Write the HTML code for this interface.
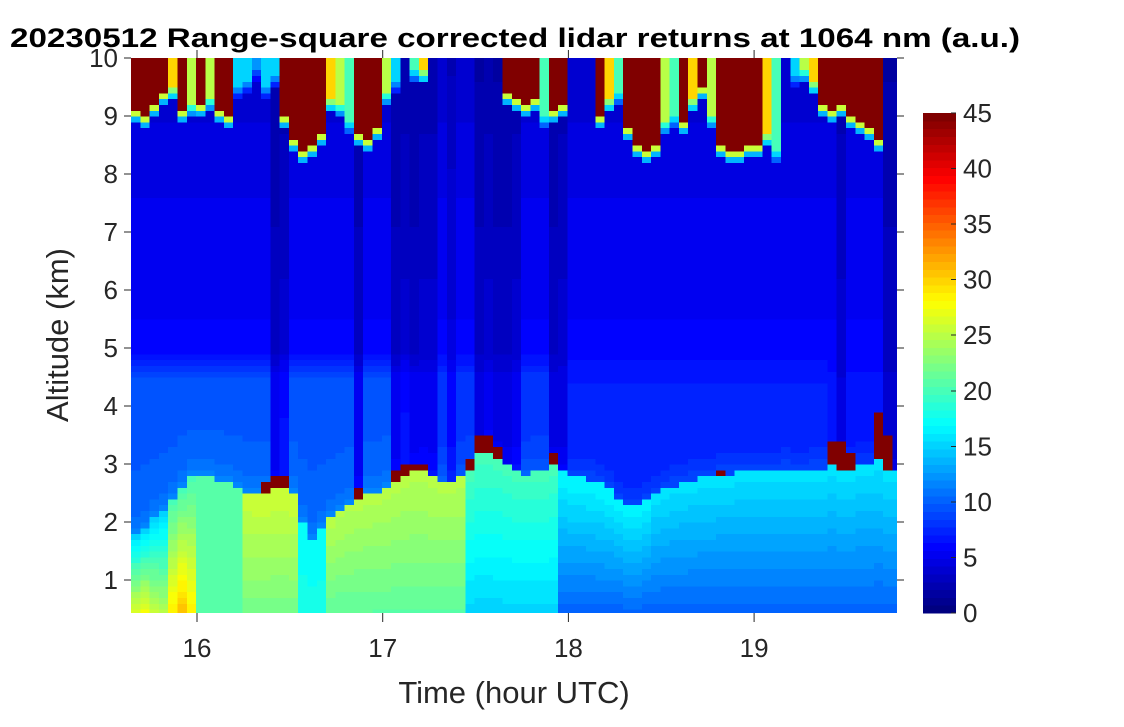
<!DOCTYPE html>
<html><head><meta charset="utf-8"><style>
body{margin:0;background:#fff;}
svg{display:block;font-family:"Liberation Sans",sans-serif;}
</style></head><body>
<svg id="chart" width="1124" height="727" viewBox="0 0 1124 727">
<defs><clipPath id="pc"><rect x="131" y="58" width="766" height="555"/></clipPath></defs>
<text x="10" y="47" font-size="27" font-weight="bold" textLength="1010" lengthAdjust="spacingAndGlyphs">20230512  Range-square corrected lidar returns at 1064 nm (a.u.)</text>
<g id="heat" clip-path="url(#pc)" shape-rendering="crispEdges"></g>
<g id="axes"></g>
<g id="cbar" shape-rendering="crispEdges"></g>
<text x="514" y="703" font-size="31" text-anchor="middle" fill="#262626">Time (hour UTC)</text>
<text transform="translate(68,335) rotate(-90)" font-size="31" text-anchor="middle" fill="#262626">Altitude (km)</text>
</svg>
<script>
const t0 = 15.645, dt = 0.05;
const pblTop = [1.8,1.9,2.1,2.2,2.4,2.6,2.8,2.85,2.8,2.75, 2.7,2.65,2.55,2.5,2.5,2.6,2.6,2.5,2.0,1.7, 1.9,2.1,2.25,2.35,2.45,2.5,2.55,2.6,2.75,2.85, 2.9,2.9,2.8,2.75,2.75,2.8,2.9,3.2,3.2,3.1, 3.0,2.9,2.85,2.9,2.9,3.0,2.9,2.8,2.8,2.75, 2.7,2.6,2.4,2.3,2.3,2.4,2.5,2.6,2.65,2.7, 2.75,2.8,2.8,2.85,2.85,2.9,2.9,2.9,2.9,2.9, 2.95,2.9,2.9,2.95,2.95,3.0,2.9,2.95,3.0,3.0, 3.1,2.9,2.9];
const lowCloud = [0,0,0,0,0,0,0,0,0,0, 0,0,0,0,0.2,0.25,0.2,0,0,0, 0,0,0,0,0.2,0,0,0,0.15,0.2, 0.15,0.15,0,0,0,0,0.2,0.3,0.3,0.25, 0,0,0,0,0,0.25,0,0,0,0, 0,0,0,0,0,0,0,0,0,0, 0,0,0,0.1,0,0,0,0,0,0, 0,0,0,0,0,0.4,0.5,0.3,0,0, 0.8,0.6,0];
const pblBot = [27,28,26,25,29,31,29,21,21,21, 21,21,22,22,22,22,22,22,18,18, 18,21,21,21,21,21,21,21,21,21, 21,21,21,21,21,21,15,15,15,15, 15,15,15,15,15,15,10,10,10,10, 10,10,10,10,10,10,10,10,10,10, 10,10,10,10,10,10,10,10,10,10, 10,10,10,10,10,10,10,10,10,10, 10,10,10];
const pblTopVal = [15,15,15,15,20,20,20,21,21,21, 21,21,26,26,26,26,26,26,17,17, 17,25,25,25,25,25,25,25,25,25, 25,25,25,25,25,25,20,20,20,20, 20,20,20,20,20,20,17,17,17,17, 17,17,17,17,17,17,16,16,16,16, 16,16,16,16,16,16,16,16,16,16, 16,16,16,16,16,16,16,16,16,16, 16,16,16];
const darkFactor = [1,1,1,1,1,1,1,1,1,1, 1,1,1,1,1,0.55,0.65,1,1,1, 1,1,1,1,0.55,1,1,1,0.55,0.65, 0.55,0.65,0.65,1,0.75,1,1,0.55,0.65,0.55, 0.55,0.65,1,1,1,0.55,0.65,1,1,1, 1,1,1,1,1,1,1,1,1,1, 1,1,1,1,1,1,1,1,1,1, 1,1,1,1,1,1,0.65,1,1,1, 1,0.55,0.55];
const cloudBase = [9.1,9.0,9.2,9.4,9.5,9.1,9.2,9.2,9.3,9.05, 9.0,9.5,9.6,9.8,9.5,9.7,9.0,8.6,8.4,8.5, 8.7,9.3,9.2,8.9,8.7,8.6,8.8,9.4,9.6,99, 9.8,9.8,99,99,99,99,99,99,99,99, 9.4,9.3,9.2,9.3,9.0,9.1,9.2,99,99,99, 9.0,9.3,9.4,8.8,8.5,8.4,8.5,8.9,9.0,8.9, 9.3,9.5,9.0,8.5,8.4,8.4,8.45,8.5,8.7,8.4, 99,9.7,9.8,9.6,9.2,9.1,9.2,9.0,8.9,8.8, 8.6,99,99];
const cloudVal = [45,45,45,45,30,45,25,45,25,45, 45,15,15,12,15,15,45,45,45,45, 45,30,25,20,45,45,45,25,15,0, 20,30,0,0,0,0,0,0,0,0, 45,45,45,45,20,45,45,0,0,0, 45,30,20,45,45,45,45,25,20,45, 30,45,25,45,45,45,45,45,30,20, 0,15,25,30,45,45,45,45,45,45, 45,0,0];
const residual = [9.5,9.5,9.5,9.5,9.5,9.5,9.5,9.5,9.5,9.5, 9.5,9.5,9.5,9.5,9.5,9.5,9.5,9.5,9.5,9.5, 9.5,9.5,9.5,9.5,9.5,9.5,9.5,9.5,9.5,9.5, 9.5,8,8,8,8,8,8,8,8,8, 8,8,8,8,8,8,7,7,7,7, 7,7,7,7,7,7,7,7,7,7, 7,7,7,7,7,7,7,7,7,7, 7,7,7,7,7,6.5,6.5,6.5,6.5,6.5, 6.5,6.5,6.5];
const xTicks = [16,17,18,19];
const yTicks = [1,2,3,4,5,6,7,8,9,10];
const cTicks = [0,5,10,15,20,25,30,35,40,45];

const NS = "http://www.w3.org/2000/svg";
const xS = t => 197 + (t - 16) * 185.7;
const yS = z => 580 - (z - 1) * 58;
const cS = v => 613 - v / 45 * 500;
function jet(v){
  let t = Math.max(0, Math.min(1, v / 45));
  t = Math.min(63, Math.floor(t * 64)) / 63;
  const c = x => Math.round(255 * Math.max(0, Math.min(1, x)));
  return `rgb(${c(1.5 - Math.abs(4*t - 3))},${c(1.5 - Math.abs(4*t - 2))},${c(1.5 - Math.abs(4*t - 1))})`;
}
function lerp(pts, z){
  if (z <= pts[0][0]) return pts[0][1];
  for (let k = 1; k < pts.length; k++) if (z <= pts[k][0]) {
    const a = pts[k-1], b = pts[k]; return a[1] + (b[1]-a[1])*(z-a[0])/(b[0]-a[0]);
  }
  return pts[pts.length-1][1];
}
function value(i, z){
  const top = pblTop[i];
  if (z >= cloudBase[i]) return cloudVal[i];
  if (z >= cloudBase[i] - 0.1) return cloudVal[i] >= 45 ? 26 : cloudVal[i] * 0.75;
  if (z >= cloudBase[i] - 0.2) return cloudVal[i] >= 45 ? 14 : Math.max(6, cloudVal[i] * 0.5);
  if (z < top) {
    const f = (z - 0.4) / (top - 0.4);
    return pblBot[i] + (pblTopVal[i] - pblBot[i]) * f;
  }
  if (z < top + lowCloud[i]) return 45;
  const r = residual[i];
  const ft = lerp([[top, r + 2], [top + 0.4, r + 0.5], [4.5, r], [5.0, 5.8], [7.5, 5.0], [10, 3.6]], z);
  return ft * darkFactor[i];
}
const heat = document.getElementById('heat');
for (let i = 0; i < pblTop.length; i++) {
  const x0 = xS(t0 + i*dt), x1 = xS(t0 + (i+1)*dt);
  for (let z = 0.4; z < 10.05; z += 0.1) {
    const zc = z + 0.05;
    const r = document.createElementNS(NS, 'rect');
    
    
    r.setAttribute('x', x0.toFixed(2));
    r.setAttribute('y', yS(z + 0.1).toFixed(2));
    r.setAttribute('width', (x1 - x0 + 0.6).toFixed(2));
    r.setAttribute('height', '6.4');
    r.setAttribute('fill', jet(value(i, zc)));
    heat.appendChild(r);
  }
}
const axes = document.getElementById('axes');
function line(x1,y1,x2,y2,name){
  const l = document.createElementNS(NS,'line');
  
  
  l.setAttribute('x1',x1);l.setAttribute('y1',y1);l.setAttribute('x2',x2);l.setAttribute('y2',y2);
  l.setAttribute('stroke','#262626');l.setAttribute('stroke-width','1');
  axes.appendChild(l);
}
function text(x,y,s,anchor,size,name,parent){
  const t = document.createElementNS(NS,'text');
  
  
  t.setAttribute('x',x);t.setAttribute('y',y);t.setAttribute('text-anchor',anchor);
  t.setAttribute('font-size',size);t.setAttribute('fill','#262626');
  t.textContent = s; parent.appendChild(t);
}
xTicks.forEach(v => {
  const x = xS(v);
  line(x,613,x,622,'x-tick');
  line(x,50,x,58,'x-tick-top');
  text(x,657,String(v),'middle',26,'x-tick-label',axes);
});
yTicks.forEach(v => {
  const y = yS(v);
  line(124,y,131,y,'y-tick');
  line(897,y,904,y,'y-tick-right');
  text(118,y+9,String(v),'end',26,'y-tick-label',axes);
});
const cbar = document.getElementById('cbar');
for (let k = 0; k < 64; k++) {
  const v0 = k * 45 / 64, v1 = (k + 1) * 45 / 64;
  const r = document.createElementNS(NS,'rect');
  
  
  r.setAttribute('x', 923); r.setAttribute('width', 33);
  r.setAttribute('y', cS(v1).toFixed(2));
  r.setAttribute('height', (cS(v0) - cS(v1) + 0.5).toFixed(2));
  r.setAttribute('fill', jet((k + 0.5) * 45 / 64));
  cbar.appendChild(r);
}
cTicks.forEach(v => {
  const y = cS(v);
  const l = document.createElementNS(NS,'line');
  
  
  l.setAttribute('x1',951);l.setAttribute('x2',956);l.setAttribute('y1',y);l.setAttribute('y2',y);
  l.setAttribute('stroke','#262626');
  cbar.appendChild(l);
  text(963,y+9,String(v),'start',26,'colorbar-tick-label',cbar);
});
</script>
</body></html>
